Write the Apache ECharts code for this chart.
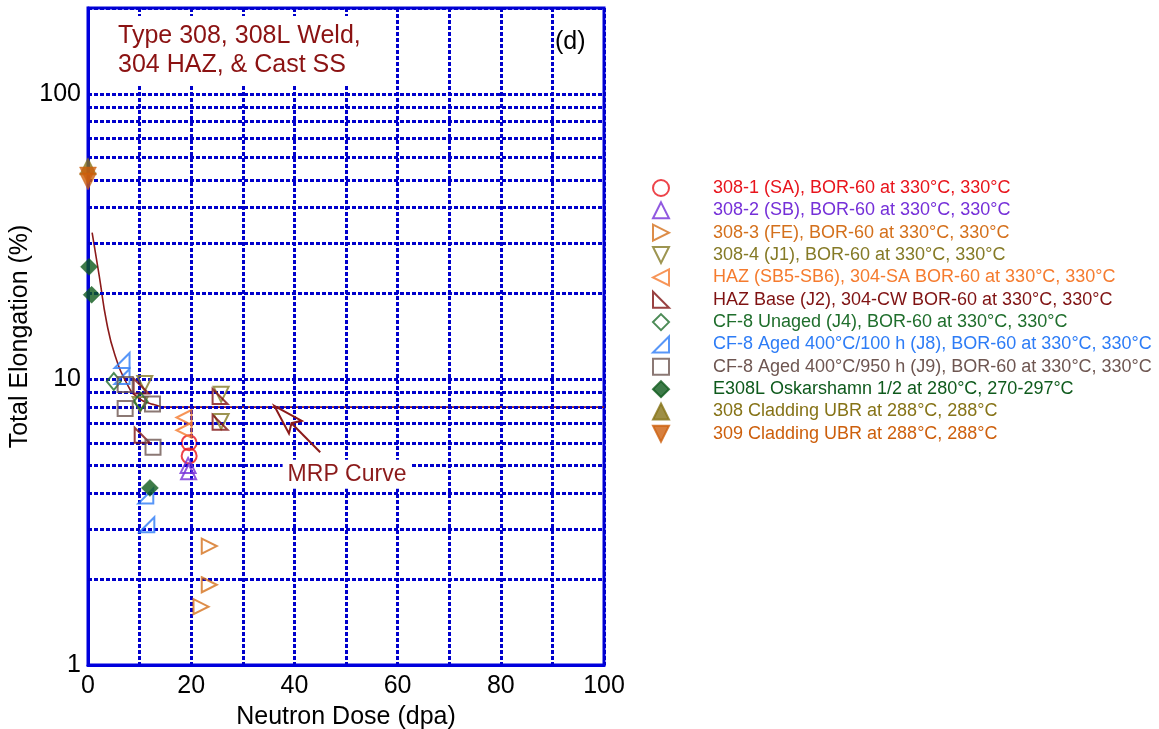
<!DOCTYPE html>
<html><head><meta charset="utf-8">
<script src="https://cdn.jsdelivr.net/npm/echarts@6/dist/echarts.min.js"></script>
<style>html,body{margin:0;padding:0;background:#fff}#c{width:1159px;height:729px}</style>
</head><body><div id="c"></div>
<script>
// ---- data ----
const xTickLabels = [0, 20, 40, 60, 80, 100];
const yTickLabels = [1, 10, 100];
const minorGridY = [2, 3, 4, 5, 6, 7, 8, 9, 20, 30, 40, 50, 60, 70, 80, 90];

const seriesNames = [
  '308-1 (SA), BOR-60 at 330°C, 330°C',
  '308-2 (SB), BOR-60 at 330°C, 330°C',
  '308-3 (FE), BOR-60 at 330°C, 330°C',
  '308-4 (J1), BOR-60 at 330°C, 330°C',
  'HAZ (SB5-SB6), 304-SA BOR-60 at 330°C, 330°C',
  'HAZ Base (J2), 304-CW BOR-60 at 330°C, 330°C',
  'CF-8 Unaged (J4), BOR-60 at 330°C, 330°C',
  'CF-8 Aged 400°C/100 h (J8), BOR-60 at 330°C, 330°C',
  'CF-8 Aged 400°C/950 h (J9), BOR-60 at 330°C, 330°C',
  'E308L Oskarshamn 1/2 at 280°C, 270-297°C',
  '308 Cladding UBR at 288°C, 288°C',
  '309 Cladding UBR at 288°C, 288°C'
];
const s308_1   = [[19.6, 6.0], [19.6, 5.4]];
const s308_2   = [[19.4, 5.0], [19.5, 4.75]];
const s308_3   = [[23.5, 2.61], [23.5, 1.91], [21.9, 1.60]];
const s308_4   = [[11.0, 9.68], [10.1, 8.18], [25.8, 8.87], [25.8, 7.13]];
const sHAZ     = [[18.6, 7.36], [18.6, 6.64]];
const sHAZBase = [[10.3, 9.49], [10.5, 6.38], [25.6, 8.72], [25.6, 7.08]];
const sCF8u    = [[5.0, 9.84], [10.2, 8.38]];
const sCF8a100 = [[6.6, 11.65], [6.6, 10.24], [11.2, 3.91], [11.4, 3.10]];
const sCF8a950 = [[7.2, 9.61], [7.2, 7.92], [12.5, 8.21], [12.6, 5.79]];
const sE308L   = [[0.2, 24.8], [0.7, 19.8], [12.0, 4.17]];
const sClad308 = [[0, 55.8]];
const sClad309 = [[0, 51.8], [0, 49.4]];
const mrpCurve = [[0.8, 32.7], [2.2, 22.9], [3.6, 15.9], [5.2, 12.2], [7.5, 9.7], [9.4, 8.72], [12.6, 8.18], [15.9, 8.0], [100, 8.0]];
const mrpArrowTip = [36.1, 8.09];
const mrpArrowTail = [45.0, 5.56];
const mrpLabelAt = [50.2, 4.66];

// ---- styling ----
const FONT = 'Liberation Sans, Arial, Helvetica, sans-serif';
const GRIDBLUE = '#0000cc';
const SYM = {
  right: 'path://M0,0L10,5L0,10Z',
  down: 'path://M0,0L10,0L5,10Z',
  left: 'path://M10,0L0,5L10,10Z',
  lowLeft: 'path://M0,0L0,10L10,10Z',
  lowRight: 'path://M10,0L10,10L0,10Z'
};
const defs = [
  {data: s308_1, color: '#e8141c', symbol: 'circle', size: 15, hollow: true},
  {data: s308_2, color: '#7530d8', symbol: 'triangle', size: 15, hollow: true},
  {data: s308_3, color: '#d4701c', symbol: SYM.right, size: 15, hollow: true},
  {data: s308_4, color: '#857a26', symbol: SYM.down, size: 15, hollow: true},
  {data: sHAZ, color: '#f57b2e', symbol: SYM.left, size: 15, hollow: true},
  {data: sHAZBase, color: '#7f1212', symbol: SYM.lowLeft, size: 15, hollow: true},
  {data: sCF8u, color: '#1f6e2c', symbol: 'diamond', size: [14, 17], hollow: true},
  {data: sCF8a100, color: '#2d7cf6', symbol: SYM.lowRight, size: 15, hollow: true},
  {data: sCF8a950, color: '#6e5651', symbol: 'rect', size: 15, hollow: true},
  {data: sE308L, color: '#0e5a1c', symbol: 'diamond', size: 17, hollow: false},
  {data: sClad308, color: '#867317', symbol: 'triangle', size: 17, hollow: false},
  {data: sClad309, color: '#cd5f0c', symbol: SYM.down, size: 17, hollow: false}
];

const gridLine = {color: GRIDBLUE, width: 3, type: [4, 2]};

const series = [
  {
    type: 'line', name: '_grid', data: [], silent: true, z: 1,
    markLine: {
      silent: true, symbol: ['none', 'none'], label: {show: false}, animation: false,
      lineStyle: gridLine,
      emphasis: {disabled: true},
      data: minorGridY.map(v => ({yAxis: v}))
    }
  },
  {
    type: 'line', name: 'MRP', data: mrpCurve, smooth: 0.5,
    showSymbol: false, symbol: 'none', silent: true, z: 3,
    lineStyle: {color: '#8b1a1a', width: 1.6}
  }
];
defs.forEach((d, i) => {
  series.push({
    type: 'scatter', name: seriesNames[i], data: d.data, symbol: d.symbol, symbolSize: d.size,
    clip: false, z: 4 + i,
    itemStyle: d.hollow
      ? {color: 'rgba(255,255,255,0)', borderColor: d.color, borderWidth: 2}
      : {color: d.color, borderColor: d.color, borderWidth: 0.5}
  });
});

const option = {
  animation: false,
  backgroundColor: '#fff',
  textStyle: {fontFamily: FONT},
  grid: {left: 88, right: 555, top: 8, bottom: 64, show: true, borderColor: '#0000dd', borderWidth: 3,
         containLabel: false, outerBoundsMode: 'none'},
  title: {
    text: 'Type 308, 308L Weld,\n304 HAZ, & Cast SS',
    left: 106, top: 16, padding: [6, 12, 6, 12], backgroundColor: '#fff',
    textStyle: {fontSize: 25, fontWeight: 'normal', color: '#8b1212', lineHeight: 29, fontFamily: FONT}
  },
  legend: {
    orient: 'vertical', left: 647, top: 174, itemWidth: 16, itemHeight: 16, itemGap: 4.35,
    selectedMode: false,
    textStyle: {fontSize: 18, fontFamily: FONT, padding: [0, 0, 0, 39]},
    data: seriesNames.map((n, i) => ({name: n, textStyle: {color: defs[i].color}}))
  },
  xAxis: {
    type: 'value', min: 0, max: 100, interval: 10,
    axisLine: {show: true, lineStyle: {color: '#0000dd', width: 3}},
    axisTick: {show: false},
    axisLabel: {fontSize: 25, color: '#000', margin: 9, fontFamily: FONT,
      formatter: v => xTickLabels.includes(Math.round(v)) ? String(Math.round(v)) : ''},
    splitLine: {show: true, lineStyle: gridLine},
    name: 'Neutron Dose (dpa)', nameLocation: 'middle', nameGap: 40,
    nameTextStyle: {fontSize: 25, color: '#000', fontFamily: FONT}
  },
  yAxis: {
    type: 'log', logBase: 10, min: 1, max: 200,
    axisLine: {show: true, lineStyle: {color: '#0000dd', width: 3}},
    axisTick: {show: false},
    axisLabel: {fontSize: 25, color: '#000', margin: 7, fontFamily: FONT,
      formatter: v => { const r = Math.round(v); return (yTickLabels.includes(r) && Math.abs(v - r) < 1e-6) ? String(r) : ''; }},
    splitLine: {show: true, lineStyle: gridLine},
    name: 'Total Elongation (%)', nameLocation: 'middle', nameGap: 55, nameRotate: 90,
    nameTextStyle: {fontSize: 25, color: '#000', fontFamily: FONT}
  },
  series: series
};

const chart = echarts.init(document.getElementById('c'), null, {renderer: 'canvas'});
chart.setOption(option);

// ---- annotations anchored to data coordinates ----
const tip = chart.convertToPixel({gridIndex: 0}, mrpArrowTip);
const tail = chart.convertToPixel({gridIndex: 0}, mrpArrowTail);
const lbl = chart.convertToPixel({gridIndex: 0}, mrpLabelAt);
const dx = tail[0] - tip[0], dy = tail[1] - tip[1];
const L = Math.hypot(dx, dy), ux = dx / L, uy = dy / L, px = uy, py = -ux;
const headLen = 30, headHalf = 9, notchLen = 24.5;
const b1 = [tip[0] + ux * headLen + px * headHalf, tip[1] + uy * headLen + py * headHalf];
const b2 = [tip[0] + ux * headLen - px * headHalf, tip[1] + uy * headLen - py * headHalf];
const notch = [tip[0] + ux * notchLen, tip[1] + uy * notchLen];

chart.setOption({
  graphic: [
    {type: 'polygon', z: 100, silent: true, shape: {points: [tip, b1, notch, b2]},
     style: {fill: 'none', stroke: '#8b1a1a', lineWidth: 2}},
    {type: 'polyline', z: 100, silent: true, shape: {points: [notch, tail]},
     style: {stroke: '#8b1a1a', lineWidth: 2}},
    {type: 'text', z: 100, silent: true, x: lbl[0], y: lbl[1],
     style: {text: 'MRP Curve', fill: '#8b1a1a', font: '23px ' + FONT, align: 'center', verticalAlign: 'middle',
             backgroundColor: '#fff', padding: [3, 5]}},
    {type: 'text', z: 100, silent: true, x: 555, y: 42,
     style: {text: '(d)', fill: '#000', font: '25px ' + FONT, align: 'left', verticalAlign: 'middle'}}
  ]
});
</script>
</body></html>
